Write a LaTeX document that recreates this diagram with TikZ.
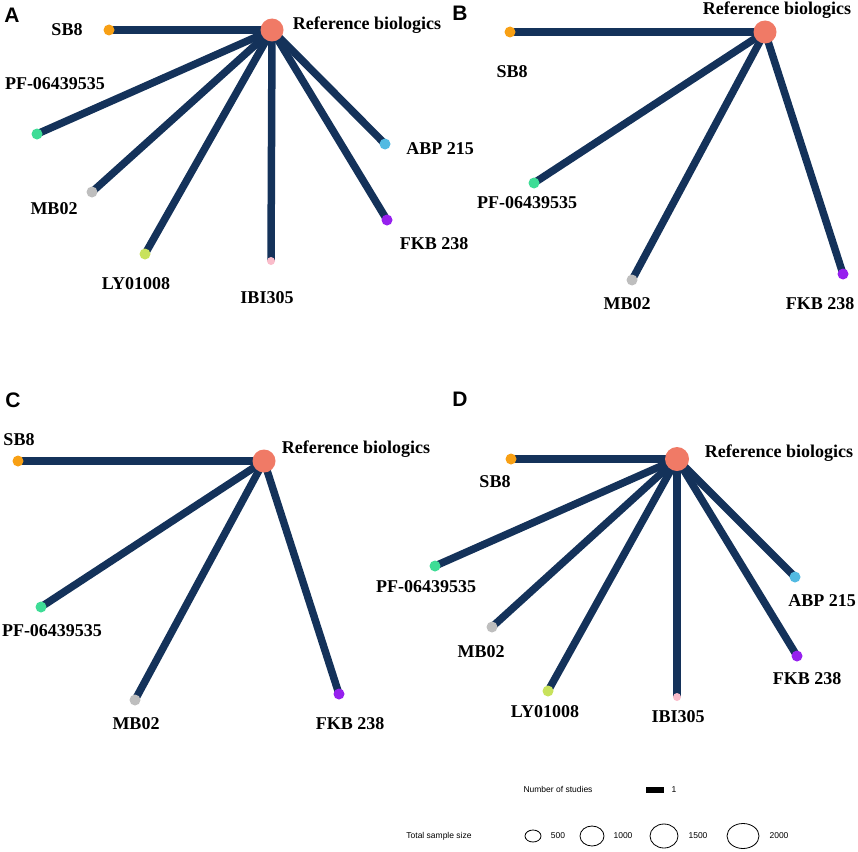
\documentclass[tikz,border=0pt]{standalone}
\usepackage{fontspec}
\setmainfont{Liberation Serif}
\setsansfont{Liberation Sans}
\usetikzlibrary{backgrounds,shapes.geometric}
\definecolor{navy}{RGB}{20,50,90}
\definecolor{refc}{RGB}{240,122,102}
\definecolor{sbc}{RGB}{248,160,20}
\definecolor{pfc}{RGB}{62,220,150}
\definecolor{mbc}{RGB}{190,190,190}
\definecolor{lyc}{RGB}{200,226,92}
\definecolor{ibic}{RGB}{250,188,202}
\definecolor{abpc}{RGB}{82,186,226}
\definecolor{fkbc}{RGB}{150,32,238}
\tikzset{
  dot/.style={circle,inner sep=0pt,minimum size=11pt,draw=none},
  refdot/.style={circle,inner sep=0pt,minimum size=23pt,fill=refc,draw=none},
  smalldot/.style={circle,inner sep=0pt,minimum size=8pt,draw=none},
  lbl/.style={font=\bfseries\fontsize{18}{20}\selectfont,inner sep=0pt,text height=12pt,text depth=0pt},
  panel/.style={font=\sffamily\bfseries\fontsize{21}{23}\selectfont,inner sep=0pt,text height=15pt,text depth=0pt},
  edge/.style={draw=navy,line width=7.5pt},
  legtxt/.style={font=\sffamily\fontsize{8.5}{10}\selectfont,inner sep=0pt},
  legell/.style={draw=black,line width=0.8pt}
}
\begin{document}
\begin{tikzpicture}[x=1pt,y=-1pt]
\useasboundingbox (0,0) rectangle (858,851);
% ---------- Panel A ----------
\node[panel] (A) at (12,15) {A};
\node[refdot] (Aref) at (272,30) {};
\node[dot,fill=sbc] (Asb) at (109,30) {};
\node[dot,fill=pfc] (Apf) at (37,134) {};
\node[dot,fill=mbc] (Amb) at (92,192) {};
\node[dot,fill=lyc] (Aly) at (145,254) {};
\node[smalldot,fill=ibic] (Aibi) at (271,261) {};
\node[dot,fill=abpc] (Aabp) at (385,144) {};
\node[dot,fill=fkbc] (Afkb) at (387,220) {};
\node[lbl] (Aref-l) at (367,24) {Reference biologics};
\node[lbl] (Asb-l) at (67,30) {SB8};
\node[lbl] (Apf-l) at (55,83) {PF-06439535};
\node[lbl] (Amb-l) at (54,208) {MB02};
\node[lbl] (Aly-l) at (136,283) {LY01008};
\node[lbl] (Aibi-l) at (267,297) {IBI305};
\node[lbl] (Aabp-l) at (440,148) {ABP 215};
\node[lbl] (Afkb-l) at (434,243) {FKB 238};
% ---------- Panel B ----------
\node[panel] (B) at (460,13) {B};
\node[refdot] (Bref) at (765,32) {};
\node[dot,fill=sbc] (Bsb) at (510,32) {};
\node[dot,fill=pfc] (Bpf) at (534,183) {};
\node[dot,fill=mbc] (Bmb) at (632,280) {};
\node[dot,fill=fkbc] (Bfkb) at (843,274) {};
\node[lbl] (Bref-l) at (777,9) {Reference biologics};
\node[lbl] (Bsb-l) at (512,71) {SB8};
\node[lbl] (Bpf-l) at (527,202) {PF-06439535};
\node[lbl] (Bmb-l) at (627,303) {MB02};
\node[lbl] (Bfkb-l) at (820,303) {FKB 238};
% ---------- Panel C ----------
\node[panel] (C) at (13,400) {C};
\node[refdot] (Cref) at (264,461) {};
\node[dot,fill=sbc] (Csb) at (18,461) {};
\node[dot,fill=pfc] (Cpf) at (41,607) {};
\node[dot,fill=mbc] (Cmb) at (135,700) {};
\node[dot,fill=fkbc] (Cfkb) at (339,694) {};
\node[lbl] (Cref-l) at (356,447) {Reference biologics};
\node[lbl] (Csb-l) at (19,439) {SB8};
\node[lbl] (Cpf-l) at (52,630) {PF-06439535};
\node[lbl] (Cmb-l) at (136,723) {MB02};
\node[lbl] (Cfkb-l) at (350,723) {FKB 238};
% ---------- Panel D ----------
\node[panel] (D) at (460,399) {D};
\node[refdot,minimum size=24pt] (Dref) at (677,459) {};
\node[dot,fill=sbc] (Dsb) at (511,459) {};
\node[dot,fill=pfc] (Dpf) at (435,566) {};
\node[dot,fill=mbc] (Dmb) at (492,627) {};
\node[dot,fill=lyc] (Dly) at (548,691) {};
\node[smalldot,fill=ibic] (Dibi) at (677,697) {};
\node[dot,fill=abpc] (Dabp) at (795,577) {};
\node[dot,fill=fkbc] (Dfkb) at (797,656) {};
\node[lbl] (Dref-l) at (779,451) {Reference biologics};
\node[lbl] (Dsb-l) at (495,481) {SB8};
\node[lbl] (Dpf-l) at (426,586) {PF-06439535};
\node[lbl] (Dmb-l) at (481,651) {MB02};
\node[lbl] (Dly-l) at (545,711) {LY01008};
\node[lbl] (Dibi-l) at (678,716) {IBI305};
\node[lbl] (Dabp-l) at (822,600) {ABP 215};
\node[lbl] (Dfkb-l) at (807,678) {FKB 238};
% ---------- edges ----------
\begin{pgfonlayer}{background}
\foreach \t in {sb,pf,mb,ly,ibi,abp,fkb}{\draw[edge] (Aref.center) -- (A\t.center);}
\foreach \t in {sb,pf,mb,fkb}{\draw[edge] (Bref.center) -- (B\t.center);}
\foreach \t in {sb,pf,mb,fkb}{\draw[edge] (Cref.center) -- (C\t.center);}
\foreach \t in {sb,pf,mb,ly,ibi,abp,fkb}{\draw[edge] (Dref.center) -- (D\t.center);}
\end{pgfonlayer}
% ---------- legend ----------
\node[legtxt] (ns) at (558,789) {Number of studies};
\node[fill=black,minimum width=18pt,minimum height=6pt,inner sep=0pt] (nsbar) at (655,790) {};
\node[legtxt] (ns1) at (674,790) {1};
\node[legtxt] (ts) at (439,836) {Total sample size};
\node[legell,ellipse,minimum width=16pt,minimum height=12pt,inner sep=0pt] (e500) at (533,836) {};
\node[legtxt] (t500) at (558,836) {500};
\node[legell,ellipse,minimum width=24pt,minimum height=20pt,inner sep=0pt] (e1000) at (592,836) {};
\node[legtxt] (t1000) at (623,836) {1000};
\node[legell,ellipse,minimum width=28pt,minimum height=24pt,inner sep=0pt] (e1500) at (664,836) {};
\node[legtxt] (t1500) at (698,836) {1500};
\node[legell,ellipse,minimum width=32pt,minimum height=25pt,inner sep=0pt] (e2000) at (743,836) {};
\node[legtxt] (t2000) at (779,836) {2000};
\end{tikzpicture}
\end{document}
